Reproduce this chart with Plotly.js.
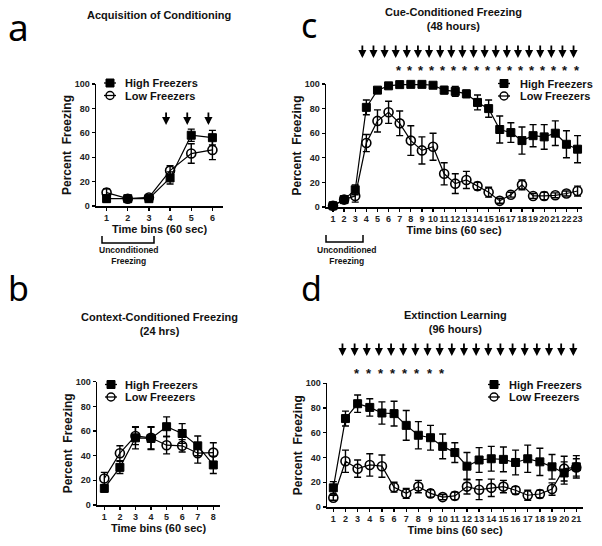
<!DOCTYPE html>
<html><head><meta charset="utf-8">
<script src="https://cdn.plot.ly/plotly-3.0.1.min.js"></script>
<style>html,body{margin:0;padding:0;background:#fff}#chart{width:602px;height:546px}</style>
</head><body><div id="chart"></div>
<script>
// ---------- data ----------
const seriesNames = ['High Freezers', 'Low Freezers'];

const binsA = [1, 2, 3, 4, 5, 6];
const highA = [6, 6, 6, 23, 58, 56];
const highAErr = [3, 2, 2, 5, 5, 6];
const lowA = [11, 6, 7, 29, 43, 46];
const lowAErr = [3, 2, 2, 4, 8, 8];
const arrowsA = [4, 5, 6];

const binsB = [1, 2, 3, 4, 5, 6, 7, 8];
const highB = [13.5, 30.5, 54.5, 54, 63.5, 58, 48, 32.5];
const highBErr = [3, 5, 9, 9, 8, 8, 8, 7];
const lowB = [21.5, 42, 56, 54.5, 48.5, 48, 42, 42.5];
const lowBErr = [5, 6, 7, 9, 7, 5, 8, 8];

const binsC = [1,2,3,4,5,6,7,8,9,10,11,12,13,14,15,16,17,18,19,20,21,22,23];
const highC = [1, 6, 14, 81, 95, 98.5, 99.5, 99.7, 99.7, 99, 95, 94, 92, 85, 80, 63, 60.5, 54, 58, 57, 60, 51, 47];
const highCErr = [1, 2, 4, 6, 2, 1, 1, 1, 1, 1, 3, 4, 3, 6, 7, 11, 8, 11, 9, 10, 10, 11, 11];
const lowC = [1, 6, 9, 52, 70, 77, 68, 54, 46, 49, 27, 19, 22, 17, 12, 5, 10, 18, 9, 9, 9.5, 11, 13];
const lowCErr = [1, 2, 5, 7, 9, 9, 10, 12, 11, 11, 9, 8, 7, 3, 4, 2, 2, 4, 2, 3, 2, 2, 4];
const arrowsC = [4,5,6,7,8,9,10,11,12,13,14,15,16,17,18,19,20,21,22,23];
const starsC = [7,8,9,10,11,12,13,14,15,16,17,18,19,20,21,22,23];

const binsD = [1,2,3,4,5,6,7,8,9,10,11,12,13,14,15,16,17,18,19,20,21];
const highD = [15.5, 71.5, 83.5, 80.5, 76, 75.5, 66, 58, 56, 49, 44, 33, 38, 39, 38.5, 36, 39, 36.5, 32.5, 27.5, 32.5];
const highDErr = [5, 6, 7, 7, 9, 10, 12, 11, 10, 10, 8, 11, 10, 10, 10, 10, 11, 11, 10, 9, 9];
const lowD = [7.5, 37, 31, 34, 33, 16, 11, 16.5, 11, 8, 9, 16.5, 14, 15.5, 16.5, 13.5, 9.5, 10.5, 14.5, 31, 32];
const lowDErr = [2, 9, 7, 9, 9, 4, 4, 5, 3, 2, 3, 6, 8, 7, 5, 3, 4, 3, 5, 10, 7];
const arrowsD = [2,3,4,5,6,7,8,9,10,11,12,13,14,15,16,17,18,19,20,21];
const starsD = [3,4,5,6,7,8,9,10];

const panelTitles = ['Acquisition of Conditioning', 'Context-Conditioned Freezing<br>(24 hrs)',
                     'Cue-Conditioned Freezing<br>(48 hours)', 'Extinction Learning<br>(96 hours)'];
const panelLetters = ['a', 'b', 'c', 'd'];
const xTitle = 'Time bins (60 sec)';
const yTitle = 'Percent\u00a0 Freezing';
const uncondLabel = 'Unconditioned<br>Freezing';

// ---------- helpers ----------
const W = 602, H = 546;
const px = x => x / W, py = y => 1 - y / H;
const FONT = '"Liberation Sans", Arial, sans-serif';

function series(xa, ya, x, y, err, isHigh) {
  return {
    type: 'scatter', mode: 'lines+markers', x: x, y: y, xaxis: xa, yaxis: ya,
    cliponaxis: false, showlegend: false, name: isHigh ? seriesNames[0] : seriesNames[1],
    line: {color: '#000', width: 1.2},
    marker: isHigh
      ? {symbol: 'square', size: 8, color: '#000', line: {color: '#000', width: 1}}
      : {symbol: 'circle-open', size: 9, color: '#000', line: {color: '#000', width: 1.6}},
    error_y: {type: 'data', array: err, visible: true, color: '#000', thickness: 1.4, width: 3.5}
  };
}

function xAxis(domain, range, anchor) {
  return {
    domain: domain, range: range, anchor: anchor, tickmode: 'linear', tick0: 1, dtick: 1,
    tickangle: 0,
    showline: true, linecolor: '#000', linewidth: 1.5, ticks: 'outside', ticklen: 3,
    tickwidth: 1.3, tickcolor: '#000', showgrid: false, zeroline: false, fixedrange: true,
    tickfont: {family: FONT, size: 9, color: '#222', weight: 'bold'},
    title: {text: xTitle, font: {family: FONT, size: 11, color: '#111', weight: 'bold'}, standoff: 3}
  };
}
function yAxis(domain, anchor) {
  return {
    domain: domain, range: [0, 100], anchor: anchor, tickmode: 'linear', tick0: 0, dtick: 20,
    showline: true, linecolor: '#000', linewidth: 1.5, ticks: 'outside', ticklen: 3,
    tickwidth: 1.3, tickcolor: '#000', showgrid: false, zeroline: false, fixedrange: true,
    tickfont: {family: FONT, size: 9, color: '#222', weight: 'bold'},
    title: {text: yTitle, font: {family: FONT, size: 12, color: '#111', weight: 'bold'}, standoff: 0}
  };
}

const data = [
  series('x', 'y', binsA, highA, highAErr, true),
  series('x', 'y', binsA, lowA, lowAErr, false),
  series('x2', 'y2', binsB, highB, highBErr, true),
  series('x2', 'y2', binsB, lowB, lowBErr, false),
  series('x3', 'y3', binsC, highC, highCErr, true),
  series('x3', 'y3', binsC, lowC, lowCErr, false),
  series('x4', 'y4', binsD, highD, highDErr, true),
  series('x4', 'y4', binsD, lowD, lowDErr, false)
];

const annotations = [];
const shapes = [];

// panel letters
const letterPos = [[6, 26, 37], [6, 288, 34], [299, 25, 34], [299, 288, 34]];
panelLetters.forEach((L, i) => annotations.push({
  xref: 'paper', yref: 'paper', x: px(letterPos[i][0]), y: py(letterPos[i][1]),
  xanchor: 'left', yanchor: 'middle', showarrow: false, text: L,
  font: {family: '"Noto Sans", "Open Sans", sans-serif', size: letterPos[i][2], color: '#000'}
}));

// panel titles
const titlePos = [[159, 15], [159, 324], [453, 19.5], [455, 321.5]];
panelTitles.forEach((t, i) => annotations.push({
  xref: 'paper', yref: 'paper', x: px(titlePos[i][0]), y: py(titlePos[i][1]),
  xanchor: 'center', yanchor: 'middle', showarrow: false, text: t,
  font: {family: FONT, size: 11, color: '#111', weight: 'bold'}
}));

// arrows (stimulus presentations)
function addArrows(bins, xref, tipY, shift) {
  bins.forEach(b => annotations.push({
    xref: xref, yref: 'paper', x: b, y: py(tipY), ax: 0, ay: -14, text: '',
    showarrow: true, arrowhead: 2, arrowsize: 0.9, arrowwidth: 1.8, arrowcolor: '#000',
    standoff: 0, xshift: shift
  }));
}
addArrows(arrowsA, 'x', 125, -4);
addArrows(arrowsC, 'x3', 58, -4);
addArrows(arrowsD, 'x4', 356, -3);

// significance stars
function addStars(bins, xref, cy) {
  bins.forEach(b => annotations.push({
    xref: xref, yref: 'paper', x: b, y: py(cy), xanchor: 'center', yanchor: 'middle',
    showarrow: false, text: '*', xshift: -1,
    font: {family: FONT, size: 13, color: '#111', weight: 'bold'}
  }));
}
addStars(starsC, 'x3', 70);
addStars(starsD, 'x4', 373);

// manual legends
function addLegend(cx, cy, tx) {
  [0, 1].forEach(k => {
    const y = cy + k * 12.5;
    shapes.push({type: 'line', xref: 'paper', yref: 'paper', x0: px(cx - 6), x1: px(cx + 6),
      y0: py(y), y1: py(y), line: {color: '#000', width: 1.3}});
    shapes.push({type: k === 0 ? 'rect' : 'circle', xref: 'paper', yref: 'paper',
      xsizemode: 'pixel', ysizemode: 'pixel', xanchor: px(cx), yanchor: py(y),
      x0: -4, x1: 4, y0: -4, y1: 4,
      fillcolor: k === 0 ? '#000' : 'rgba(0,0,0,0)', line: {color: '#000', width: k === 0 ? 1 : 1.5}});
    annotations.push({xref: 'paper', yref: 'paper', x: px(tx), y: py(y), xanchor: 'left',
      yanchor: 'middle', showarrow: false, text: seriesNames[k],
      font: {family: FONT, size: 11, color: '#111', weight: 'bold'}});
  });
}
addLegend(110, 83, 123);
addLegend(111, 384.5, 123);
addLegend(504, 83.5, 518);
addLegend(494, 384.5, 507);

// "Unconditioned Freezing" brackets
function addBracket(x0, x1, yTop, yBot, labelX, labelY) {
  shapes.push({type: 'path', xref: 'paper', yref: 'paper',
    path: `M ${px(x0)} ${py(yTop)} L ${px(x0)} ${py(yBot)} L ${px(x1)} ${py(yBot)} L ${px(x1)} ${py(yTop)}`,
    line: {color: '#000', width: 1.5}});
  annotations.push({xref: 'paper', yref: 'paper', x: px(labelX), y: py(labelY), xanchor: 'center',
    yanchor: 'middle', showarrow: false, text: uncondLabel,
    font: {family: FONT, size: 8.5, color: '#111', weight: 'bold'}});
}
addBracket(102, 154, 236, 243, 129, 255);
addBracket(326, 363, 235, 242, 347, 255);

const layout = {
  width: W, height: H, margin: {l: 0, r: 0, t: 0, b: 0},
  paper_bgcolor: '#fff', plot_bgcolor: 'rgba(0,0,0,0)', showlegend: false,
  xaxis: xAxis([px(96), px(223)], [0.5, 6.5], 'y'),
  yaxis: yAxis([py(206), py(84)], 'x'),
  xaxis2: xAxis([px(97), px(220)], [0.53, 8.43], 'y2'),
  yaxis2: yAxis([py(505), py(381.7)], 'x2'),
  xaxis3: xAxis([px(326), px(582)], [0.37, 23.4], 'y3'),
  yaxis3: yAxis([py(207), py(84)], 'x3'),
  xaxis4: xAxis([px(327), px(583)], [0.48, 21.55], 'y4'),
  yaxis4: yAxis([py(507), py(383.3)], 'x4'),
  annotations: annotations, shapes: shapes
};

Plotly.newPlot('chart', data, layout, {staticPlot: true, displayModeBar: false});
</script>
</body></html>
